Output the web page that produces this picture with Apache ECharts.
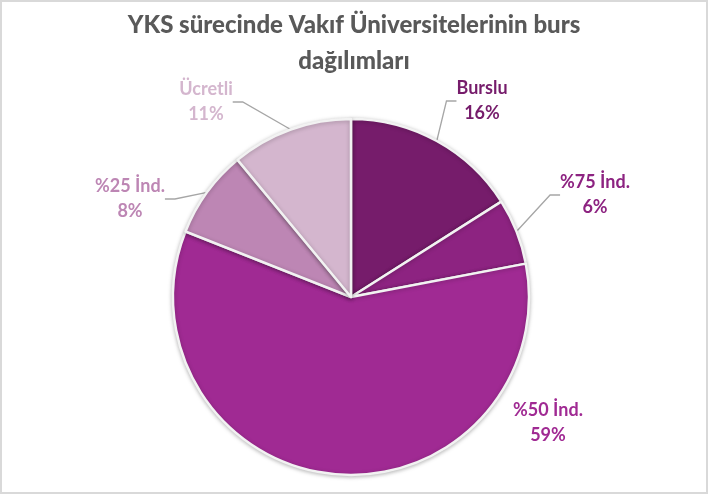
<!DOCTYPE html>
<html>
<head>
<meta charset="utf-8">
<script src="https://cdn.jsdelivr.net/npm/echarts@6/dist/echarts.min.js"></script>
<style>
html,body{margin:0;padding:0;background:#fff;}
#c{width:708px;height:494px;box-sizing:border-box;border:2px solid #d9d9d9;}
</style>
</head>
<body>
<div id="c"></div>
<script>
const categories = ['Burslu', '%75 İnd.', '%50 İnd.', '%25 İnd.', 'Ücretli'];
const values = [16, 6, 59, 8, 11];
const colors = ['#761C6B', '#8D2381', '#A02A93', '#BD86B4', '#D4B6CE'];
const titleText = 'YKS sürecinde Vakıf Üniversitelerinin burs\ndağılımları';
// label anchor positions (layout only)
const labelPos = [[480, 99], [593, 193], [546, 421], [128, 197], [204, 100]];

const chart = echarts.init(document.getElementById('c'), null, {renderer: 'canvas'});
const data = categories.map((name, i) => ({
  name: name,
  value: values[i],
  itemStyle: {color: colors[i]},
  label: {color: colors[i]},
  labelLine: {lineStyle: {opacity: i === 2 ? 0 : 1}}
}));
chart.setOption({
  animation: false,
  title: {
    text: titleText,
    left: 'center',
    top: 5,
    padding: 0,
    textStyle: {fontFamily: 'Lato', fontWeight: 900, fontSize: 24, color: '#595959', lineHeight: 36}
  },
  series: [{
    type: 'pie',
    center: [349, 295],
    radius: 178,
    startAngle: 90,
    clockwise: true,
    selectedMode: false,
    emphasis: {disabled: true},
    itemStyle: {borderColor: '#f2f2f2', borderWidth: 2.5, shadowBlur: 4, shadowColor: 'rgba(0,0,0,0.25)', shadowOffsetY: 1},
    label: {
      show: true,
      position: 'outside',
      formatter: p => p.name + '\n' + p.percent.toFixed(0) + '%',
      fontFamily: 'Lato',
      fontWeight: 'bold',
      fontSize: 18,
      lineHeight: 25,
      align: 'center'
    },
    labelLine: {show: true, length: 15, length2: 10, lineStyle: {color: '#a6a6a6', width: 1.3}},
    labelLayout: function (params) {
      const p = labelPos[params.dataIndex];
      return {x: p[0], y: p[1], align: 'center', verticalAlign: 'middle', hideOverlap: false};
    },
    data: data
  }]
});
</script>
</body>
</html>
